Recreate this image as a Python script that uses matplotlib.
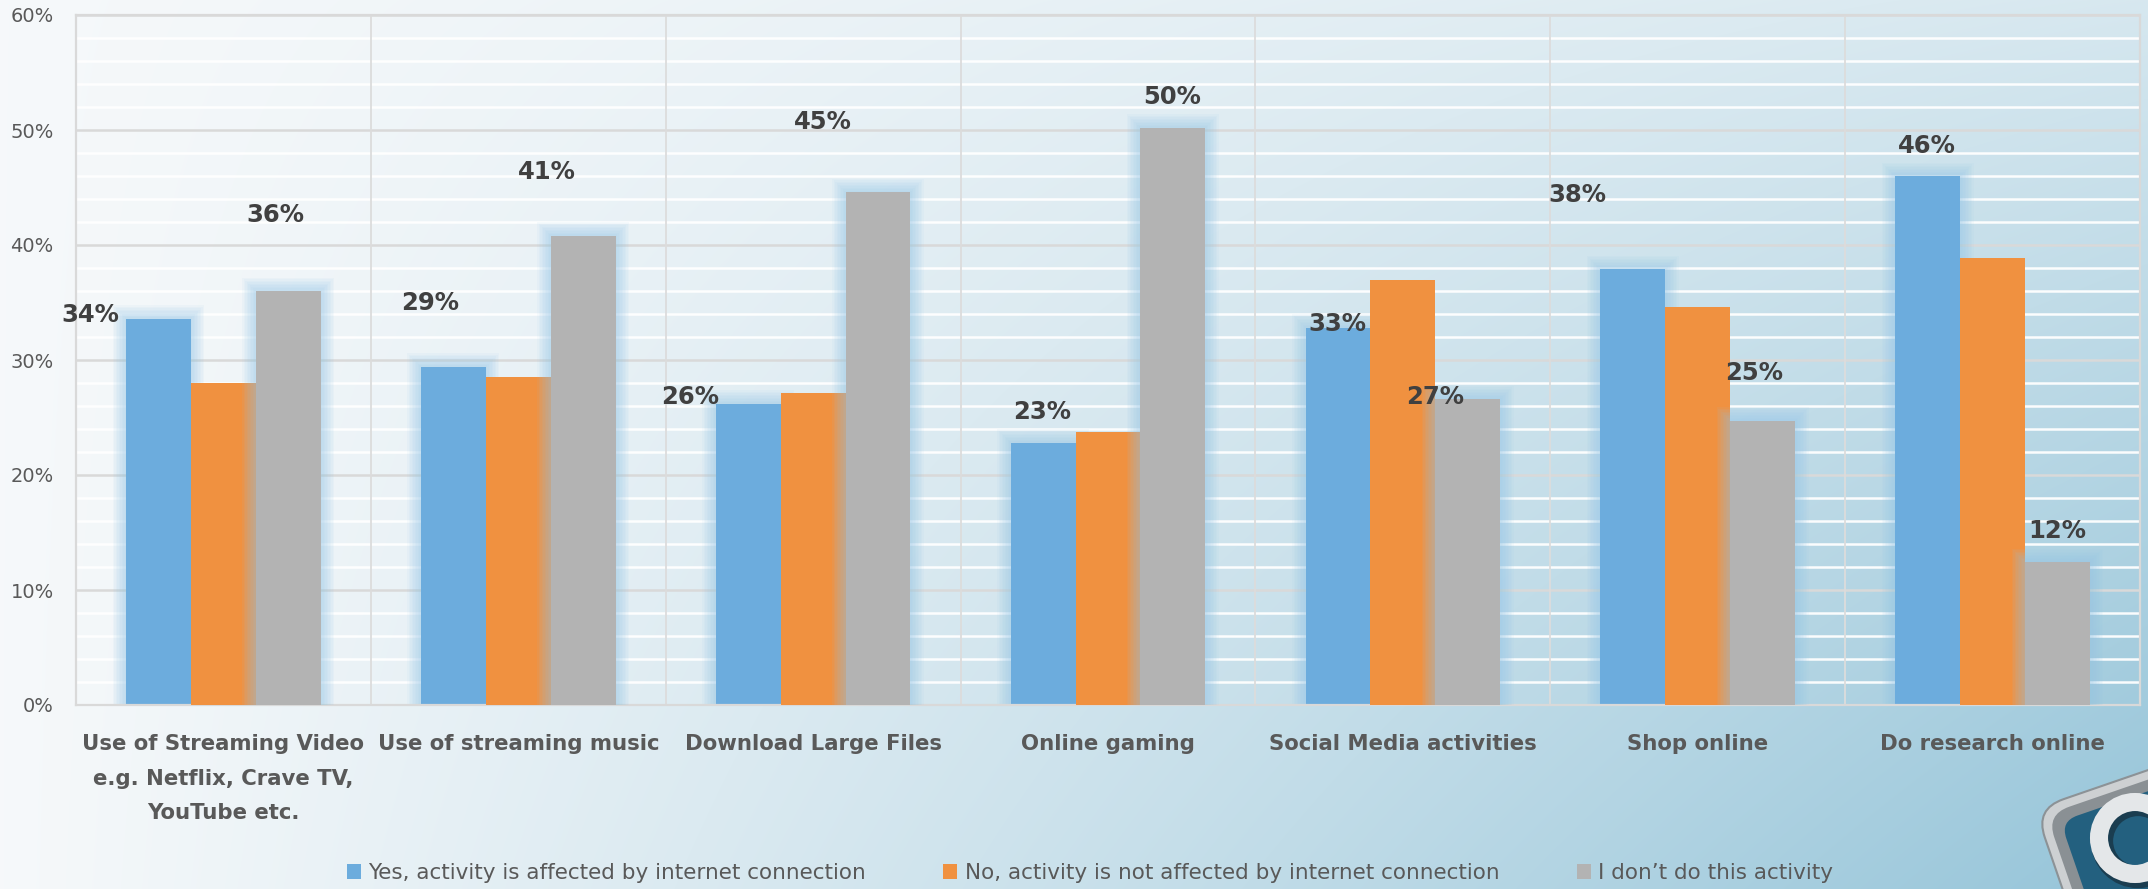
import numpy as np
import matplotlib
matplotlib.use("Agg")
import matplotlib.pyplot as plt
from matplotlib.patches import FancyBboxPatch, Circle
from matplotlib.transforms import Affine2D
from matplotlib.ticker import MultipleLocator, FuncFormatter

# ---- data -------------------------------------------------------------
categories = [
    "Use of Streaming Video\ne.g. Netflix, Crave TV,\nYouTube etc.",
    "Use of streaming music",
    "Download Large Files",
    "Online gaming",
    "Social Media activities",
    "Shop online",
    "Do research online",
]
series_names = [
    "Yes, activity is affected by internet connection",
    "No, activity is not affected by internet connection",
    "I don\u2019t do this activity",
]
affected = [33.6, 29.4, 26.2, 22.8, 32.8, 37.9, 46.0]
not_affected = [28.0, 28.5, 27.1, 23.7, 37.0, 34.6, 38.9]
not_doing = [36.0, 40.8, 44.6, 50.2, 26.6, 24.7, 12.4]

# label offsets from the top-centre of each labelled bar, in pixels (dx, up)
affected_label_offsets = [(-68, 4), (-23, 64), (-58, 7), (-1, 31), (-1, 4), (-55, 74), (-1, 30)]
not_doing_label_offsets = [(-13, 76), (-36, 64), (-55, 70), (-1, 31), (-33, 2), (-8, 48), (0, 31)]

BLUE = "#6CACDD"
ORANGE = "#F09140"
GRAY = "#B3B3B3"
GLOW = "#95C7E8"
TEXT_DARK = "#404040"
TEXT_MID = "#595959"

W, H = 2148, 889
fig = plt.figure(figsize=(W / 100, H / 100), dpi=100)

# ---- background gradient (pixel coordinates, y up) ---------------------
bg = fig.add_axes([0, 0, 1, 1])
bg.set_xlim(0, W)
bg.set_ylim(0, H)
bg.axis("off")
bg.set_zorder(0)
xs = np.linspace(0, 1, W)
ys = np.linspace(0, 1, H)  # 0 at top, 1 at bottom
X, Y = np.meshgrid(xs, ys)
t = X ** 1.1 * (0.32 + 0.68 * Y ** 0.9)
light = np.array([0.965, 0.975, 0.982])
dark = np.array([0.585, 0.770, 0.850])
img = light[None, None, :] * (1 - t[..., None]) + dark[None, None, :] * t[..., None]
bg.imshow(img, extent=(0, W, 0, H), origin="upper", aspect="auto", zorder=0)

# corner badge
P = (2035, 80)
rot = Affine2D().rotate_deg_around(P[0], P[1], 19) + bg.transData
size = 270
for inset, fc, ec, rs in [(0, "#CDD0D2", "#8C9296", 30), (9, "#8A9094", "none", 24),
                          (20, "#23607F", "none", 18)]:
    bg.add_patch(FancyBboxPatch((P[0] + inset, P[1] - size + inset), size - 2 * inset,
                                size - 2 * inset,
                                boxstyle=f"round,pad=0,rounding_size={rs}",
                                fc=fc, ec=ec, lw=1.5, transform=rot, zorder=2))
bg.add_patch(Circle((2138, 48), 36, fill=False, ec="#1A3D50", lw=16, zorder=3))
bg.add_patch(Circle((2135, 51), 36, fill=False, ec="#E4E7E9", lw=13, zorder=4))

# ---- chart -------------------------------------------------------------
ax = fig.add_axes([76 / W, (H - 705) / H, (2140 - 76) / W, 690 / H])
ax.set_zorder(1)
ax.patch.set_alpha(0)
ax.set_xlim(-0.5, len(categories) - 0.5)
ax.set_ylim(0, 60)

ax.yaxis.set_major_locator(MultipleLocator(10))
ax.yaxis.set_minor_locator(MultipleLocator(2))
ax.yaxis.set_major_formatter(FuncFormatter(lambda v, _: f"{v:.0f}%"))
ax.set_axisbelow(True)
ax.grid(which="minor", axis="y", color="white", lw=1.8, alpha=0.95)
ax.grid(which="major", axis="y", color="#D9D9D9", lw=1.8)
for b in np.arange(0.5, len(categories) - 0.5, 1.0):
    ax.axvline(b, color="#DCDCDC", lw=1.3, zorder=0.6)
for s in ax.spines.values():
    s.set_color("#D9D9D9")
    s.set_linewidth(1.6)

x = np.arange(len(categories))
w = 0.22
xpx = (len(categories)) / (2140 - 76)   # data units per pixel, x
ypx = 60 / 690                          # data units per pixel, y


def glow(xc, vals, z):
    vals = np.asarray(vals)
    for i in range(1, 10):
        p = 1.5 * i
        ax.bar(xc, vals + p * ypx, w + 2 * p * xpx, color=GLOW, alpha=0.07,
               linewidth=0, zorder=z)


glow(x - w, affected, 1)
b1 = ax.bar(x - w, affected, w, color=BLUE, linewidth=0, zorder=2, label=series_names[0])
b2 = ax.bar(x, not_affected, w, color=ORANGE, linewidth=0, zorder=3, label=series_names[1])
glow(x + w, not_doing, 4)
b3 = ax.bar(x + w, not_doing, w, color=GRAY, linewidth=0, zorder=5, label=series_names[2])

label_kw = dict(textcoords="offset pixels", ha="center", va="center", fontsize=17.5,
                fontweight="bold", color=TEXT_DARK, zorder=6)
for xi, v, off in zip(x - w, affected, affected_label_offsets):
    ax.annotate(f"{v:.0f}%", xy=(xi, v), xytext=off, **label_kw)
for xi, v, off in zip(x + w, not_doing, not_doing_label_offsets):
    ax.annotate(f"{v:.0f}%", xy=(xi, v), xytext=off, **label_kw)

ax.set_xticks(x)
ax.set_xticklabels(categories, fontweight="bold", color=TEXT_MID, fontsize=15.3,
                   linespacing=1.9, va="top")
ax.tick_params(axis="x", length=0, pad=21)
ax.tick_params(axis="y", which="both", length=0, labelsize=14, labelcolor=TEXT_MID, pad=16)

fig.legend(handles=[b1, b2, b3], labels=series_names, loc="center",
           bbox_to_anchor=(1090 / W, (H - 873) / H), ncol=3, frameon=False,
           fontsize=15.5, handlelength=0.65, handleheight=0.65, handletextpad=0.35,
           columnspacing=3.6, labelcolor=TEXT_MID)

fig.savefig("out.png", dpi=100)
